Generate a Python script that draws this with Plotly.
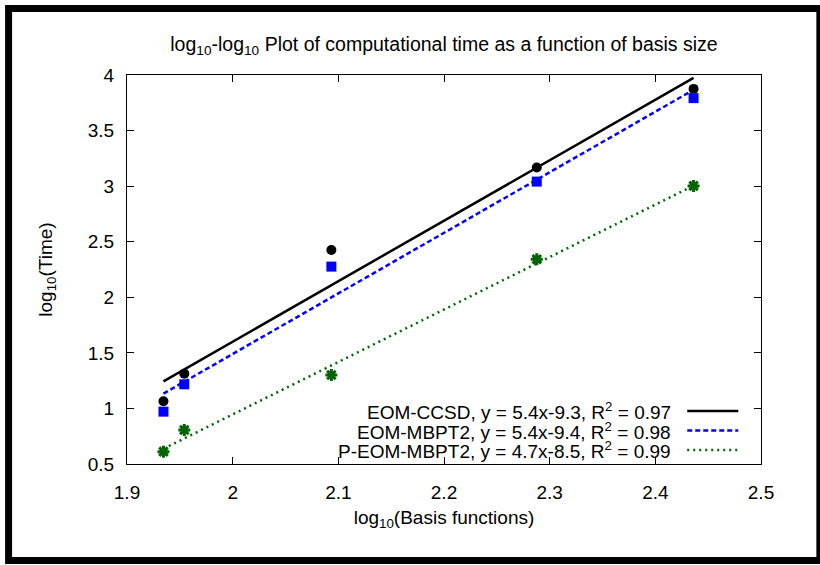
import numpy as np
import plotly.graph_objects as go

# ---------------- data ----------------
basis_log10 = [1.9345, 1.9542, 2.0934, 2.2878, 2.4362]
eom_ccsd = [1.064, 1.313, 2.426, 3.167, 3.875]
eom_mbpt2 = [0.971, 1.217, 2.276, 3.041, 3.792]
p_eom_mbpt2 = [0.611, 0.806, 1.301, 2.342, 3.002]

series_names = ["EOM-CCSD", "EOM-MBPT2", "P-EOM-MBPT2"]
legend_labels = [
    "EOM-CCSD, y = 5.4x-9.3, R<sup>2</sup> = 0.97",
    "EOM-MBPT2, y = 5.4x-9.4, R<sup>2</sup> = 0.98",
    "P-EOM-MBPT2, y = 4.7x-8.5, R<sup>2</sup> = 0.99",
]
x_tick_vals = [1.9, 2.0, 2.1, 2.2, 2.3, 2.4, 2.5]
x_tick_text = ["1.9", "2", "2.1", "2.2", "2.3", "2.4", "2.5"]
y_tick_vals = [0.5, 1.0, 1.5, 2.0, 2.5, 3.0, 3.5, 4.0]
y_tick_text = ["0.5", "1", "1.5", "2", "2.5", "3", "3.5", "4"]

# ---------------- styling / geometry ----------------
W, H = 820, 565
PL, PR, PT, PB = 127.3, 760.7, 75.0, 464.0   # plot area in pixels
FONT = "Liberation Sans, Arial, Helvetica, sans-serif"
FS = 19
colors = ["#000000", "#0000ff", "#006400"]
dashes = ["solid", "5px,3px", "2px,4px"]
symbols = ["circle", "square", "asterisk-open"]
sizes = [10, 10, 10]


def px_x(p):
    return (p - PL) / (PR - PL)


def px_y(p):
    return (PB - p) / (PB - PT)


fig = go.Figure()

all_series = [eom_ccsd, eom_mbpt2, p_eom_mbpt2]
xs = np.array(basis_log10)
for i, ys in enumerate(all_series):
    slope, icpt = np.polyfit(xs, np.array(ys), 1)
    xfit = np.array([xs.min(), xs.max()])
    fig.add_trace(go.Scatter(
        x=xfit, y=slope * xfit + icpt, mode="lines",
        line=dict(color=colors[i], width=2.5, dash=dashes[i]),
        name=legend_labels[i], showlegend=False, hoverinfo="skip"))
for i, ys in enumerate(all_series):
    marker = dict(color=colors[i], size=sizes[i], symbol=symbols[i])
    if symbols[i] == "asterisk-open":
        marker["line"] = dict(color=colors[i], width=3)
    fig.add_trace(go.Scatter(
        x=basis_log10, y=ys, mode="markers", marker=marker,
        name=series_names[i], showlegend=False))

# manual gnuplot-style legend: text right-aligned, sample to the right
row_y = [411.0, 430.5, 450.0]
shapes = []
annotations = []
for i in range(3):
    annotations.append(dict(
        x=px_x(673), y=px_y(row_y[i]), xref="paper", yref="paper",
        xanchor="right", yanchor="middle", showarrow=False,
        text=legend_labels[i], font=dict(family=FONT, size=FS, color="black")))
    shapes.append(dict(
        type="line", xref="paper", yref="paper",
        x0=px_x(687), x1=px_x(738), y0=px_y(row_y[i]), y1=px_y(row_y[i]),
        line=dict(color=colors[i], width=2.5, dash=dashes[i])))

# outer black frame
shapes.append(dict(
    type="rect", xref="paper", yref="paper",
    x0=px_x(9), x1=px_x(819.5), y0=px_y(560.5), y1=px_y(8.5),
    line=dict(color="black", width=7), fillcolor="rgba(0,0,0,0)", layer="above"))

axis_common = dict(
    showline=True, linecolor="black", linewidth=1, mirror="ticks",
    ticks="inside", ticklen=7, tickwidth=1, tickcolor="black",
    showgrid=False, zeroline=False,
    tickfont=dict(family=FONT, size=FS, color="black"),
)

fig.update_layout(
    width=W, height=H,
    margin=dict(l=PL, r=W - PR, t=PT, b=H - PB, autoexpand=False),
    paper_bgcolor="white", plot_bgcolor="white",
    font=dict(family=FONT, size=FS, color="black"),
    title=dict(
        text="log<sub>10</sub>-log<sub>10</sub> Plot of computational time as a function of basis size",
        x=0.5, xref="paper", xanchor="center",
        y=1 - 44 / H, yref="container", yanchor="middle",
        font=dict(family=FONT, size=19.5, color="black")),
    xaxis=dict(range=[1.9, 2.5], tickvals=x_tick_vals, ticktext=x_tick_text,
               ticklabelstandoff=11,
               title=dict(text="log<sub>10</sub>(Basis functions)", standoff=8,
                          font=dict(family=FONT, size=FS, color="black")),
               **axis_common),
    yaxis=dict(range=[0.5, 4.0], tickvals=y_tick_vals, ticktext=y_tick_text,
               ticklabelstandoff=8,
               title=dict(text="log<sub>10</sub>(Time)", standoff=30,
                          font=dict(family=FONT, size=FS, color="black")),
               **axis_common),
    shapes=shapes, annotations=annotations, showlegend=False,
)

fig.write_html("out.html", config={"displayModeBar": False},
               post_script="document.body.style.margin='0';")
